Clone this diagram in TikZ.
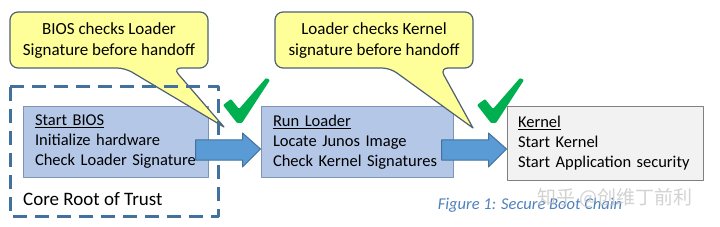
\documentclass[tikz,border=0pt]{standalone}
\usepackage{fontspec}
\setmainfont{Carlito}
\newfontfamily\cjkfont{Noto Sans CJK SC}
\usepackage{tikz}
\usetikzlibrary{calc, positioning}
\usepackage{xcolor}

\definecolor{stagefill}{HTML}{B4C7E7}
\definecolor{stageedge}{HTML}{8094B4}
\definecolor{kernelfill}{HTML}{F2F2F2}
\definecolor{kerneledge}{HTML}{808080}
\definecolor{notefill}{HTML}{FFFF99}
\definecolor{noteedge}{HTML}{4F6072}
\definecolor{trustedge}{HTML}{41719C}
\definecolor{arrowfill}{HTML}{5B9BD5}
\definecolor{okgreen}{HTML}{00B050}
\definecolor{captionblue}{HTML}{4F81BD}

\begin{document}
\begin{tikzpicture}[x=1pt, y=-1pt, line join=round,
    stage/.style={draw=stageedge, line width=1pt, fill=stagefill, align=left,
        inner xsep=12pt, inner ysep=0pt, minimum height=70pt,
        font=\fontsize{16.5}{20}\selectfont},
    note/.style={draw=noteedge, line width=1.2pt, fill=notefill},
    notetext/.style={align=center, inner sep=0pt, font=\fontsize{17}{21}\selectfont},
    handoff/.style={draw=trustedge, line width=1pt, fill=arrowfill}]

    \useasboundingbox[fill=white] (0,0) rectangle (720,227);

    % Boot stages
    \node[stage, text width=161pt] (bios) at (115.5,142)
        {\underline{Start BIOS}\\Initialize hardware\\Check Loader Signature};
    \node[stage, text width=168pt, right=52pt of bios] (loader)
        {\underline{Run Loader}\\Locate Junos Image\\Check Kernel Signatures};
    \node[stage, text width=174pt, inner xsep=11pt, minimum height=73pt,
        fill=kernelfill, draw=kerneledge] (kernel) at (605,143.5)
        {\underline{Kernel}\\Start Kernel\\Start Application security};

    % Callouts
    \coordinate (tipA) at (224,127);
    \coordinate (tipB) at (473,128);
    \draw[note, rounded corners=8pt] (109,12) -- (208,12) -- (208,68) -- (173,68)
        [sharp corners] -- (tipA) [rounded corners=8pt] -- (125,68) -- (10,68) -- (10,12) -- cycle;
    \draw[note, rounded corners=8pt] (374,12) -- (473,12) -- (473,68) -- (440,68)
        [sharp corners] -- (tipB) [rounded corners=8pt] -- (390,68) -- (275,68) -- (275,12) -- cycle;
    \node[notetext] (noteA) at (109,41) {BIOS checks Loader\\Signature before handoff};
    \node[notetext] (noteB) at (374,41) {Loader checks Kernel\\signature before handoff};

    % Core root of trust
    \draw[trustedge, line width=3pt, dash pattern=on 14pt off 8pt] (10,87) rectangle (218,216);
    \node[anchor=west, inner sep=0pt, font=\fontsize{19}{22}\selectfont] (crtm) at (23,199) {Core Root of Trust};

    % Handoff arrows
    \coordinate (endA) at (loader.west |- 0,149);
    \coordinate (endB) at (kernel.west |- 0,149);
    \foreach \e in {endA, endB} {
        \draw[handoff] ($(\e)+(-65,-9)$) -- ++(47,0) -- ++(0,-7) -- (\e)
            -- ($(\e)+(-18,18)$) -- ++(0,-7) -- ++(-47,0) -- cycle;
    }

    % Check marks
    \foreach \cx in {223, 477} {
        \fill[okgreen, rounded corners=1pt] (\cx,105) -- (\cx+8,99) -- (\cx+16,109) -- (\cx+43,78)
            -- (\cx+47,80) -- (\cx+19,123) -- (\cx+14,123) -- cycle;
    }

    % Caption
    \node[font=\fontsize{16.5}{20}\selectfont\itshape, text=captionblue, inner sep=0pt] (caption)
        at (530,205) {Figure 1: Secure Boot Chain};
    \node[font=\cjkfont\fontsize{19}{22}\selectfont, text=black!22, opacity=0.8, inner sep=0pt] (mark)
        at (615,198) {知乎 @创维丁前利};
\end{tikzpicture}
\end{document}
